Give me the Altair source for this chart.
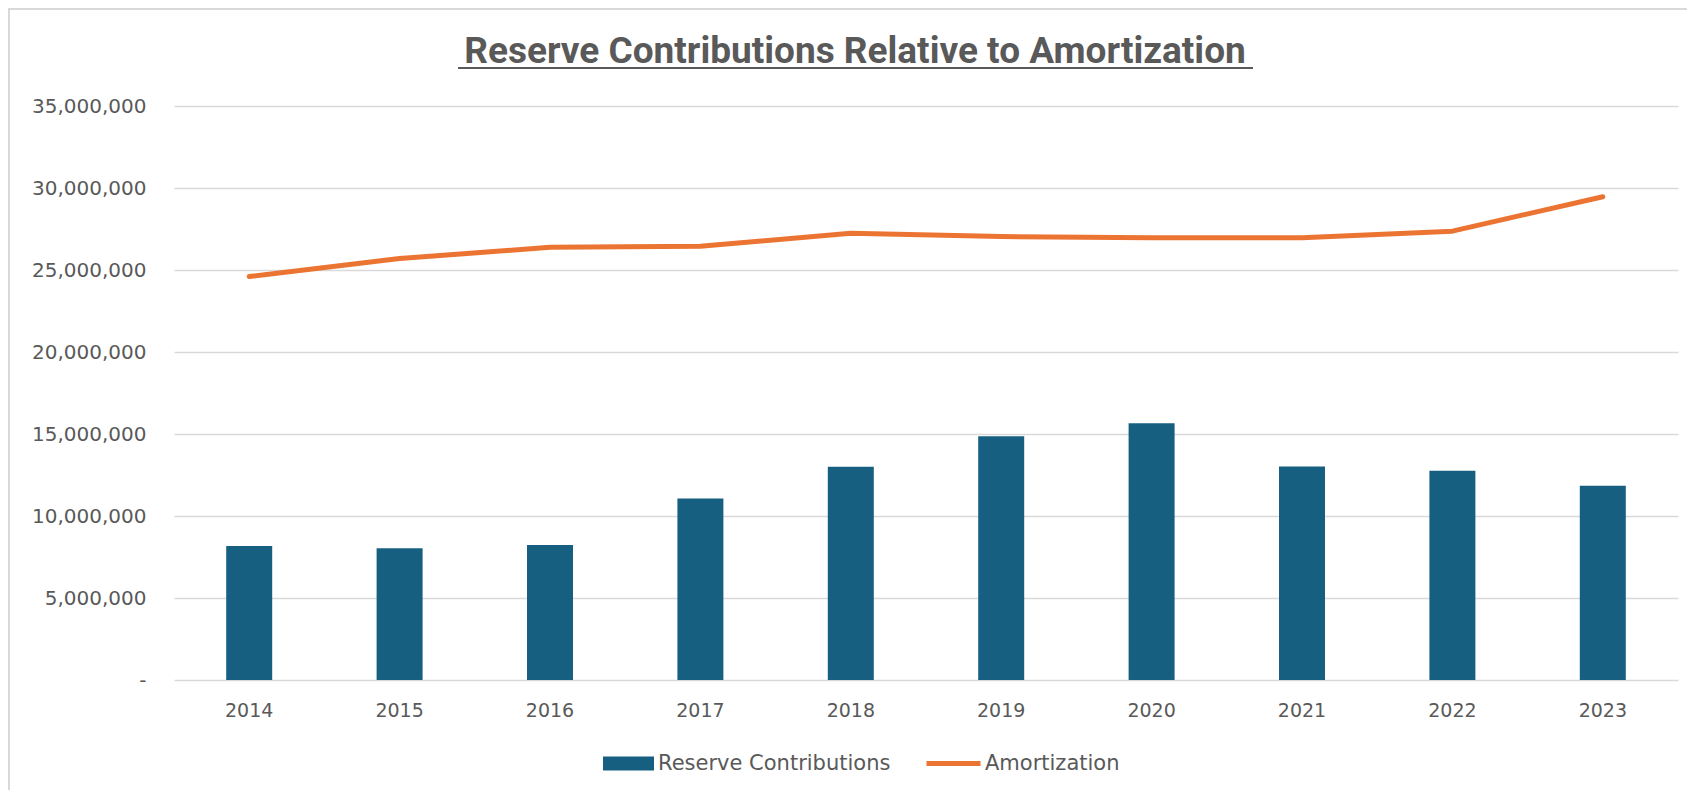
import altair as alt
import pandas as pd

years = ["2014", "2015", "2016", "2017", "2018", "2019", "2020", "2021", "2022", "2023"]
reserve = [8170000, 8030000, 8230000, 11060000, 13010000, 14870000, 15660000, 13020000, 12760000, 11840000]
amort = [24600000, 25700000, 26380000, 26450000, 27240000, 27040000, 26970000, 26970000, 27370000, 29470000]
y_ticks = [0, 5000000, 10000000, 15000000, 20000000, 25000000, 30000000, 35000000]
title_text = "Reserve Contributions Relative to Amortization"

bar_df = pd.DataFrame({"Year": years, "Value": reserve, "Series": "Reserve Contributions"})
line_df = pd.DataFrame({"Year": years, "Value": amort, "Series": "Amortization"})

BAR = "#175F80"
ORANGE = "#EC7432"
TXT = "#595959"
FONT = "DejaVu Sans"

x_enc = alt.X("Year:O", sort=years, scale=alt.Scale(paddingInner=0, paddingOuter=0),
              axis=alt.Axis(title=None, labelAngle=0, domain=False, ticks=False,
                            labelPadding=21, labelFontSize=19, labelColor=TXT, labelFont=FONT,
                            grid=False))
y_enc = alt.Y("Value:Q", scale=alt.Scale(domain=[0, 35000000], nice=False),
              axis=alt.Axis(title=None, values=y_ticks, domain=False, ticks=False,
                            labelPadding=28, labelFontSize=20, labelColor=TXT, labelFont=FONT,
                            labelExpr="datum.value == 0 ? '-' : format(datum.value, ',')",
                            gridColor="#D9D9D9", gridWidth=1.5))

bars = alt.Chart(bar_df).mark_bar(width=46, color=BAR).encode(
    x=x_enc,
    y=y_enc,
    fill=alt.Fill("Series:N", scale=alt.Scale(domain=["Reserve Contributions"], range=[BAR]),
                  legend=alt.Legend(title=None, orient="none", legendX=429, legendY=632,
                                    symbolType="M-1,-0.27H1V0.27H-1Z", symbolSize=2601,
                                    symbolStrokeWidth=0, labelFontSize=21, labelColor=TXT,
                                    labelFont=FONT, labelOffset=4, padding=0, labelLimit=500)),
)

line = alt.Chart(line_df).mark_line(strokeWidth=5, strokeCap="round", strokeJoin="round").encode(
    x=alt.X("Year:O", sort=years),
    y=alt.Y("Value:Q"),
    stroke=alt.Stroke("Series:N", scale=alt.Scale(domain=["Amortization"], range=[ORANGE]),
                      legend=alt.Legend(title=None, orient="none", legendX=750, legendY=628,
                                        symbolType="stroke", symbolSize=2916, symbolStrokeWidth=5,
                                        labelFontSize=21, labelColor=TXT, labelFont=FONT,
                                        labelOffset=2, padding=0, labelLimit=500)),
)

title = alt.Chart(pd.DataFrame({"t": [title_text]})).mark_text(
    font="Roboto", fontWeight="bold", fontSize=37, color=TXT, align="center", baseline="alphabetic"
).encode(text="t:N", x=alt.value(681), y=alt.value(-43))

underline = alt.Chart(pd.DataFrame({"t": [title_text]})).mark_rule(color=TXT, strokeWidth=2).encode(
    x=alt.value(284), x2=alt.value(1079), y=alt.value(-38))

border = alt.Chart(pd.DataFrame({"t": [0]})).mark_rect(
    fill="transparent", stroke="#D9D9D9", strokeWidth=2
).encode(x=alt.value(-165), x2=alt.value(1560), y=alt.value(-97), y2=alt.value(720))

chart = alt.layer(border, bars, line, title, underline).resolve_scale(
    fill="independent", stroke="independent"
).properties(
    width=1504, height=574,
    padding={"left": 166, "top": 98, "right": 9, "bottom": 110},
    autosize=alt.AutoSizeParams(type="none"),
).configure(background="white", view=alt.ViewConfig(stroke=None))

chart.save("out.html", embed_options={"renderer": "svg", "actions": False})
